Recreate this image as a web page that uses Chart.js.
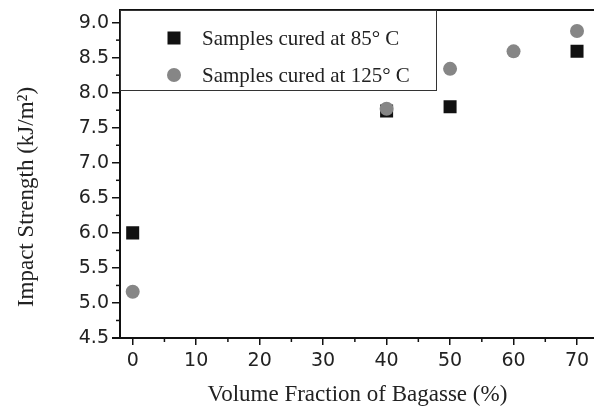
<!DOCTYPE html>
<html>
<head>
<meta charset="utf-8">
<script src="https://cdn.jsdelivr.net/npm/chart.js@4.4.0/dist/chart.umd.min.js"></script>
<style>
  html, body { margin: 0; padding: 0; background: #fff; overflow: hidden; }
  /* el grafico original esta cortado a la derecha: el borde derecho queda fuera de la ventana */
  #wrap { width: 604px; height: 413px; }
</style>
</head>
<body>
<div id="wrap"><canvas id="myChart"></canvas></div>
<script>
// datos
const seriesNames = ['Samples cured at 85\u00B0 C', 'Samples cured at 125\u00B0 C'];
const fraction85 = [0, 40, 50, 70];
const impact85 = [6.0, 7.74, 7.8, 8.59];
const fraction125 = [0, 40, 50, 60, 70];
const impact125 = [5.16, 7.77, 8.34, 8.59, 8.88];
const xTitle = 'Volume Fraction of Bagasse (%)';
const yTitle = 'Impact Strength (kJ/m\u00B2)';

const sansFont = 'DejaVu Sans';
const serifFont = 'Liberation Serif';

// puntos (x,y) para scatter
const pts85 = fraction85.map((x, i) => ({ x: x, y: impact85[i] }));
const pts125 = fraction125.map((x, i) => ({ x: x, y: impact125[i] }));

// Plugin: ticks menores, borde superior, titulo Y y leyenda con caja
const extras = {
  id: 'extras',
  afterDraw(chart) {
    const ctx = chart.ctx;
    const area = chart.chartArea;
    const xs = chart.scales.x;
    const ys = chart.scales.y;
    ctx.save();
    ctx.strokeStyle = '#111';
    ctx.lineWidth = 1.5;
    // minor ticks x
    for (let v = 5; v <= 70; v += 10) {
      const px = xs.getPixelForValue(v);
      ctx.beginPath();
      ctx.moveTo(px, area.bottom);
      ctx.lineTo(px, area.bottom + 4);
      ctx.stroke();
    }
    // minor ticks y
    for (let v = 4.75; v <= 9; v += 0.5) {
      const py = ys.getPixelForValue(v);
      ctx.beginPath();
      ctx.moveTo(area.left, py);
      ctx.lineTo(area.left - 4, py);
      ctx.stroke();
    }
    // eje x un poco a la izquierda del eje y
    ctx.lineWidth = 2;
    ctx.beginPath();
    ctx.moveTo(area.left - 8, area.bottom);
    ctx.lineTo(area.left, area.bottom);
    ctx.stroke();
    // borde superior
    ctx.beginPath();
    ctx.moveTo(area.left, area.top);
    ctx.lineTo(area.right, area.top);
    ctx.stroke();

    // titulo eje Y
    ctx.fillStyle = '#222';
    ctx.font = '23px "' + serifFont + '"';
    ctx.textAlign = 'center';
    ctx.textBaseline = 'middle';
    ctx.translate(27, 197);
    ctx.rotate(-Math.PI / 2);
    ctx.fillText(yTitle, 0, 0);
    ctx.restore();

    // leyenda
    ctx.save();
    const boxRight = 436, boxBottom = 90;
    ctx.fillStyle = '#fff';
    ctx.fillRect(area.left + 1, area.top + 1, boxRight - area.left - 1, boxBottom - area.top - 1);
    ctx.strokeStyle = '#333';
    ctx.lineWidth = 1;
    ctx.strokeRect(area.left + 0.5, area.top + 0.5, boxRight - area.left, boxBottom - area.top);
    const rows = [38, 75];
    chart.data.datasets.forEach((ds, i) => {
      const cy = rows[i];
      const cx = 174;
      ctx.fillStyle = ds.backgroundColor;
      if (ds.pointStyle === 'rect') {
        ctx.fillRect(cx - 6.5, cy - 6.5, 13, 13);
      } else {
        ctx.beginPath();
        ctx.arc(cx, cy, 7, 0, Math.PI * 2);
        ctx.fill();
      }
      ctx.fillStyle = '#222';
      ctx.font = '21px "' + serifFont + '"';
      ctx.textAlign = 'left';
      ctx.textBaseline = 'middle';
      ctx.fillText(ds.label, 202, cy + 1);
    });
    ctx.restore();
  }
};

new Chart(document.getElementById('myChart'), {
  type: 'scatter',
  data: {
    datasets: [
      {
        label: seriesNames[0],
        data: pts85,
        pointStyle: 'rect',
        pointRadius: 9.2,
        pointHoverRadius: 9.2,
        backgroundColor: '#111',
        borderColor: '#111',
        borderWidth: 0,
        order: 2
      },
      {
        label: seriesNames[1],
        data: pts125,
        pointStyle: 'circle',
        pointRadius: 7,
        pointHoverRadius: 7,
        backgroundColor: '#868686',
        borderColor: '#868686',
        borderWidth: 0,
        order: 1
      }
    ]
  },
  options: {
    responsive: true,
    maintainAspectRatio: false,
    animation: false,
    layout: { padding: { top: 10, right: 0, left: 0, bottom: 0 } },
    plugins: {
      legend: { display: false },
      tooltip: { enabled: false },
      title: { display: false }
    },
    scales: {
      x: {
        type: 'linear',
        min: -2,
        max: 72.8,
        afterFit: (scale) => { scale.height = 75; scale.paddingRight = 0; scale.paddingLeft = 0; },
        border: { display: true, color: '#111', width: 2 },
        grid: { drawOnChartArea: false, drawTicks: true, tickLength: 7, color: '#111', lineWidth: 1.5 },
        ticks: {
          stepSize: 10,
          includeBounds: false,
          padding: 5,
          color: '#222',
          font: { family: sansFont, size: 19 },
          callback: (v) => v
        },
        title: {
          display: true,
          text: xTitle,
          color: '#222',
          font: { family: serifFont, size: 23 },
          padding: { top: 4 }
        }
      },
      y: {
        type: 'linear',
        min: 4.5,
        max: 9.18,
        afterFit: (scale) => { scale.width = 120; scale.paddingTop = 0; scale.paddingBottom = 0; },
        border: { display: true, color: '#111', width: 2 },
        grid: { drawOnChartArea: false, drawTicks: true, tickLength: 8, color: '#111', lineWidth: 1.5 },
        ticks: {
          stepSize: 0.5,
          includeBounds: false,
          padding: 3,
          color: '#222',
          font: { family: sansFont, size: 19 },
          callback: (v) => Number(v).toFixed(1)
        }
      }
    }
  },
  plugins: [extras]
});
</script>
</body>
</html>
